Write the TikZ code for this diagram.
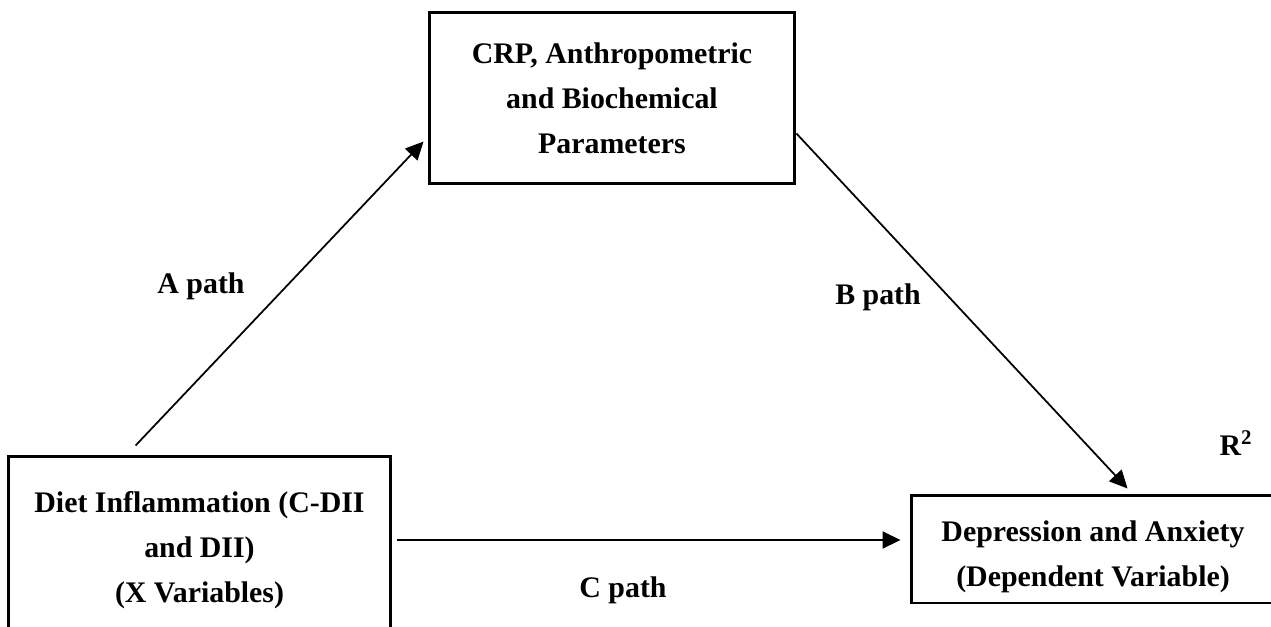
\documentclass[tikz,border=0pt]{standalone}
\usepackage{fontspec}
\setmainfont{Liberation Serif}
\usetikzlibrary{arrows.meta, calc}

\tikzset{
  varbox/.style={draw, line width=1.7pt, align=center, font=\fontsize{17}{25.6}\selectfont\bfseries, inner sep=0pt},
  patharrow/.style={-{Triangle[length=0.36cm, width=0.34cm]}, line width=1pt},
  pathlabel/.style={font=\fontsize{17}{20}\selectfont\bfseries, inner sep=0pt}
}

\begin{document}
\begin{tikzpicture}[x=0.02cm, y=-0.02cm]
        \useasboundingbox (0,0) rectangle (1271,626);
        \clip (0,0) rectangle (1271,626);

        % boxes
        \node[varbox, minimum width=7.66cm, minimum height=3.76cm] (diet) at (199.5,550) {Diet Inflammation (C-DII\\and DII)\\(X Variables)};
        \node[varbox, minimum width=7.32cm, minimum height=3.44cm] (crp) at (612,98) {CRP, Anthropometric\\and Biochemical\\Parameters};
        \node[varbox, minimum width=7.28cm, minimum height=2.16cm] (dep) at (1093,549) {\rule{0pt}{21pt}Depression and Anxiety\\(Dependent Variable)};

        % labels
        \node[pathlabel] (alab) at (201,286) {A path};
        \node[pathlabel] (blab) at (878,297) {B path};
        \node[pathlabel] (clab) at (623,590) {C path};
        \node[pathlabel] (rsq) at (1236,443) {R\textsuperscript{2}};

        % paths
        \draw[patharrow] ($(diet.north west)+(129,-9)$) -- ($(crp.north west)+(-4,131)$);
        \draw[patharrow] ($(crp.north east)+(0,123)$) -- ($(dep.north west)+(218,-5)$);
        \draw[patharrow] ($(diet.east)+(5,-10)$) -- ($(dep.west)+(-9,-9)$);
\end{tikzpicture}
\end{document}
